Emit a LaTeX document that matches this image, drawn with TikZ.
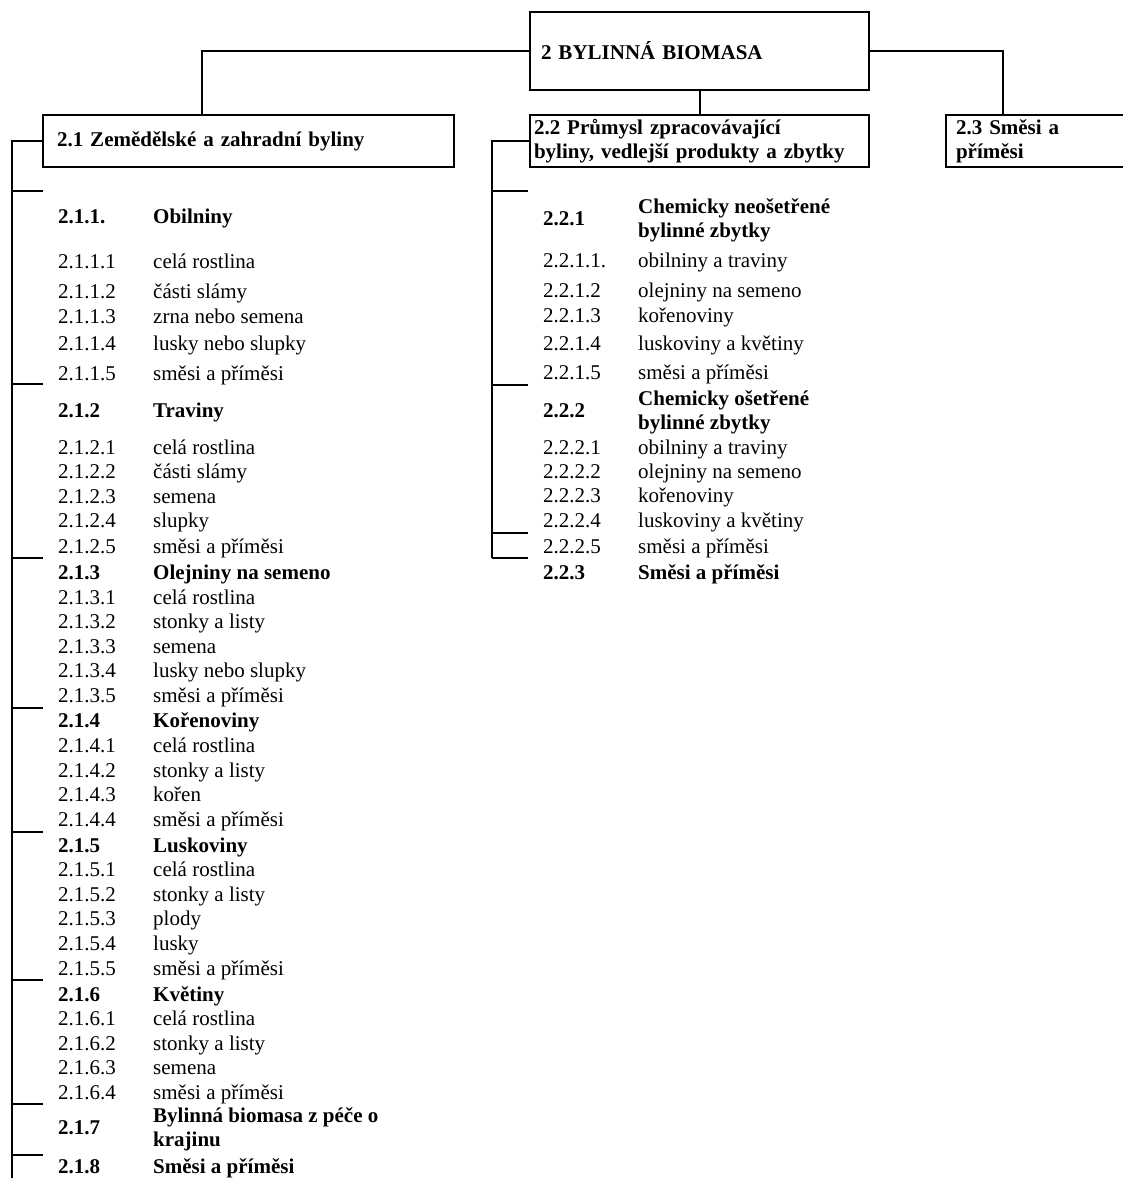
\documentclass[tikz,border=0pt]{standalone}
\usepackage{fontspec}
\setmainfont{Liberation Serif}
\begin{document}
\begin{tikzpicture}[x=1pt,y=-1pt,
  link/.style={draw, line width=2pt},
  box/.style={draw, line width=2pt, anchor=north west, align=left, inner ysep=0pt,
              font=\fontsize{21}{24}\selectfont\bfseries},
  num/.style={anchor=base west, inner sep=0pt, font=\fontsize{21}{24}\selectfont},
  numb/.style={anchor=base west, inner sep=0pt, font=\fontsize{21}{24}\selectfont\bfseries},
  twoline/.style={anchor=west, inner sep=0pt, align=left, font=\fontsize{21}{24}\selectfont\bfseries},
  tick/.style={draw, line width=2pt}]
\clip (0,0) rectangle (1123,1178);

% boxes
\node[box, minimum width=339, minimum height=78, text width=317, inner xsep=11] (b2) at (529,11) {2 BYLINNÁ BIOMASA};
\node[box, minimum width=411, minimum height=52, text width=383, inner xsep=14] (b21) at (42,114) {2.1 Zemědělské a zahradní byliny};
\node[box, minimum width=339, minimum height=52, text width=331, inner xsep=4] (b22) at (529,114) {\mbox{2.2 Průmysl zpracovávající}\\\mbox{byliny, vedlejší produkty a zbytky}};
\node[box, minimum width=220, minimum height=52, text width=200, inner xsep=10] (b23) at (945,114) {2.3 Směsi a\\příměsi};

% top connectors
\draw[link] (b2.west) -| ([xshift=-46.5]b21.north);
\draw[link] (b2) -- (b22);
\draw[link] (b2.east) -| ([xshift=-53]b23.north);

% left bracket
\coordinate (lbot) at (12,1182);
\draw[link] (b21.west) -| (lbot);
\foreach \t in {191,384,558,708,832,980,1104,1155}
  \draw[tick] (12,\t) -- (43,\t);

% middle bracket
\coordinate (mbot) at (492,558);
\draw[link] (b22.west) -| (mbot);
\foreach \t in {191,385,533}
  \draw[tick] (492,\t) -- (528,\t);
\draw[tick] (mbot) -- (528,558);

% left column headers
\foreach \y/\n/\l [count=\i] in {
  216/2.1.1./Obilniny,
  410/2.1.2/Traviny,
  572/2.1.3/Olejniny na semeno,
  720/2.1.4/Kořenoviny,
  845/2.1.5/Luskoviny,
  994/2.1.6/Květiny,
  1166/2.1.8/Směsi a příměsi}{
  \node[numb] (lhn\i) at (58,\y+7) {\n};
  \node[numb] (lhl\i) at (153,\y+7) {\l};
}
\node[numb] (lhn17) at (58,1127+7) {2.1.7};
\node[twoline] (lhl17) at (153,1129) {Bylinná biomasa z péče o\\krajinu};

% left column items
\foreach \y/\n/\l [count=\i] in {
  261/2.1.1.1/celá rostlina,
  291/2.1.1.2/části slámy,
  316/2.1.1.3/zrna nebo semena,
  343/2.1.1.4/lusky nebo slupky,
  373/2.1.1.5/směsi a příměsi,
  447/2.1.2.1/celá rostlina,
  471/2.1.2.2/části slámy,
  496/2.1.2.3/semena,
  520/2.1.2.4/slupky,
  546/2.1.2.5/směsi a příměsi,
  597/2.1.3.1/celá rostlina,
  621/2.1.3.2/stonky a listy,
  646/2.1.3.3/semena,
  670/2.1.3.4/lusky nebo slupky,
  695/2.1.3.5/směsi a příměsi,
  745/2.1.4.1/celá rostlina,
  770/2.1.4.2/stonky a listy,
  794/2.1.4.3/kořen,
  819/2.1.4.4/směsi a příměsi,
  869/2.1.5.1/celá rostlina,
  894/2.1.5.2/stonky a listy,
  918/2.1.5.3/plody,
  943/2.1.5.4/lusky,
  968/2.1.5.5/směsi a příměsi,
  1018/2.1.6.1/celá rostlina,
  1043/2.1.6.2/stonky a listy,
  1067/2.1.6.3/semena,
  1092/2.1.6.4/směsi a příměsi}{
  \node[num] (lin\i) at (58,\y+7) {\n};
  \node[num] (lil\i) at (153,\y+7) {\l};
}

% middle column headers
\node[numb] (mhn1) at (543,218+7) {2.2.1};
\node[twoline] (mhl1) at (638,220) {Chemicky neošetřené\\bylinné zbytky};
\node[numb] (mhn2) at (543,410+7) {2.2.2};
\node[twoline] (mhl2) at (638,412) {Chemicky ošetřené\\bylinné zbytky};
\node[numb] (mhn3) at (543,572+7) {2.2.3};
\node[numb] (mhl3) at (638,572+7) {Směsi a příměsi};

% middle column items
\foreach \y/\n/\l [count=\i] in {
  260/2.2.1.1./obilniny a traviny,
  290/2.2.1.2/olejniny na semeno,
  315/2.2.1.3/kořenoviny,
  343/2.2.1.4/luskoviny a květiny,
  372/2.2.1.5/směsi a příměsi,
  447/2.2.2.1/obilniny a traviny,
  471/2.2.2.2/olejniny na semeno,
  495/2.2.2.3/kořenoviny,
  520/2.2.2.4/luskoviny a květiny,
  546/2.2.2.5/směsi a příměsi}{
  \node[num] (min\i) at (543,\y+7) {\n};
  \node[num] (mil\i) at (638,\y+7) {\l};
}
\end{tikzpicture}
\end{document}
